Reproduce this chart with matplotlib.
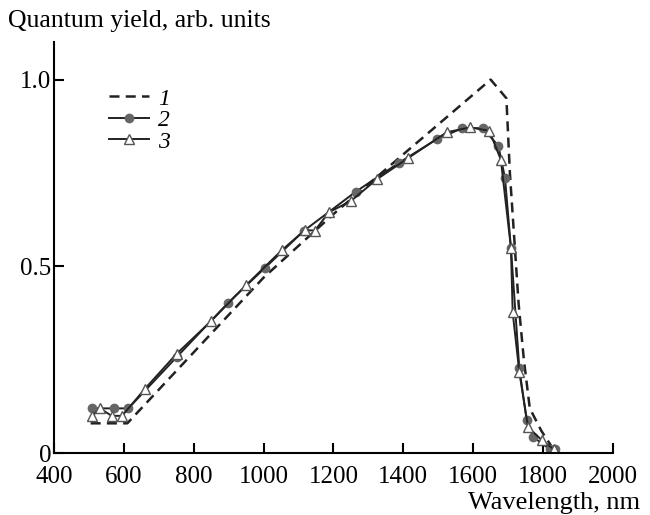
import numpy as np
import matplotlib.pyplot as plt

plt.rcParams['font.family'] = ['Liberation Serif', 'DejaVu Serif']

# curve 1 (dashed)
wl1 = [505, 610, 1000, 1200, 1400, 1650, 1695, 1705, 1730, 1745, 1762, 1795, 1830]
qy1 = [0.08, 0.08, 0.47, 0.64, 0.80, 1.0, 0.95, 0.75, 0.40, 0.25, 0.12, 0.06, 0.01]

# curve 2 (circles)
wl2 = [508, 572, 613, 751, 899, 1004, 1115, 1264, 1387, 1495, 1569, 1627,
       1672, 1691, 1708, 1732, 1753, 1772, 1820, 1835]
qy2 = [0.12, 0.12, 0.12, 0.257, 0.403, 0.496, 0.595, 0.70, 0.777, 0.84, 0.87, 0.87,
       0.823, 0.737, 0.55, 0.227, 0.088, 0.043, 0.01, 0.01]

# curve 3 (triangles)
wl3 = [510, 532, 565, 595, 660, 751, 849, 950, 1053, 1118, 1147, 1187, 1250,
       1324, 1414, 1524, 1591, 1646, 1679, 1708, 1713, 1732, 1757, 1796, 1831]
qy3 = [0.10, 0.12, 0.10, 0.10, 0.172, 0.266, 0.353, 0.45, 0.544, 0.597, 0.596, 0.645, 0.675,
       0.733, 0.790, 0.859, 0.872, 0.863, 0.786, 0.55, 0.377, 0.217, 0.07, 0.035, 0.01]

xticks = [400, 600, 800, 1000, 1200, 1400, 1600, 1800, 2000]
yticks = [0, 0.5, 1.0]
ytick_labels = ['0', '0.5', '1.0']

fig = plt.figure(figsize=(6.5, 5.15), dpi=100)
ax = fig.add_axes([0.083, 0.120, 0.860, 0.798])

ax.plot(wl1, qy1, color='#222222', lw=1.8, ls=(0, (4, 2.5)), label='1')
ax.plot(wl2, qy2, color='#222222', lw=1.4, marker='o', ms=6,
        mfc='#666666', mec='#666666', label='2')
ax.plot(wl3, qy3, color='#222222', lw=1.4, marker='^', ms=7,
        mfc='white', mec='#555555', mew=1.0, label='3')

ax.set_xlim(400, 2000)
ax.set_ylim(0, 1.1)
ax.set_xticks(xticks)
ax.set_yticks(yticks)
ax.set_yticklabels(ytick_labels)
ax.tick_params(direction='in', length=7, width=1.5, labelsize=18)
ax.tick_params(axis='x', pad=9)
ax.tick_params(axis='y', pad=2)
for s in ['top', 'right']:
    ax.spines[s].set_visible(False)
for s in ['left', 'bottom']:
    ax.spines[s].set_linewidth(1.5)

leg = ax.legend(loc='upper left', bbox_to_anchor=(0.06, 0.94), frameon=False,
                handlelength=1.7, handletextpad=0.4, labelspacing=0.0,
                prop={'style': 'italic', 'size': 17})

fig.text(0.012, 0.96, 'Quantum yield, arb. units', fontsize=18.5, va='center')
fig.text(0.985, 0.024, 'Wavelength, nm', fontsize=19, ha='right', va='center')

fig.savefig('out.png', dpi=100)
